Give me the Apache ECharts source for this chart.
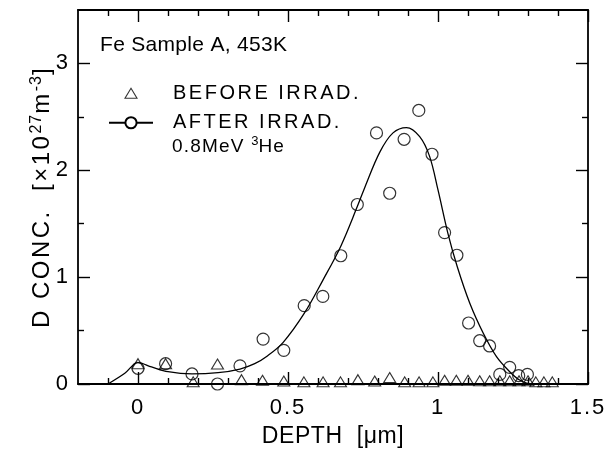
<!DOCTYPE html>
<html>
<head>
<meta charset="utf-8">
<script src="https://cdn.jsdelivr.net/npm/echarts@6/dist/echarts.min.js"></script>
<style>html,body{margin:0;padding:0;background:#fff;}#c{width:613px;height:455px;}</style>
</head>
<body>
<div id="c"></div>
<script>
// ---- data ----
const depthLabels = [0, 0.5, 1, 1.5];
const depthMinorTicks = [-0.1, 0.1, 0.2, 0.3, 0.4, 0.6, 0.7, 0.8, 0.9, 1.1, 1.2, 1.3, 1.4];
const concLabels = [0, 1, 2, 3];
const concMinorTicks = [0.5, 1.5, 2.5];

const beforeDepth = [0, 0.092, 0.184, 0.265, 0.345, 0.415, 0.486, 0.553, 0.617, 0.675, 0.733, 0.789, 0.839, 0.889, 0.937, 0.983, 1.022, 1.061, 1.1, 1.139, 1.172, 1.206, 1.239, 1.27, 1.3, 1.326, 1.353, 1.381];
const beforeConc  = [0.19, 0.19, 0.02, 0.187, 0.04, 0.035, 0.028, 0.02, 0.02, 0.02, 0.04, 0.028, 0.06, 0.02, 0.02, 0.02, 0.035, 0.035, 0.035, 0.03, 0.03, 0.03, 0.03, 0.03, 0.03, 0.02, 0.02, 0.02];

const afterDepth = [0, 0.092, 0.18, 0.265, 0.34, 0.417, 0.486, 0.554, 0.616, 0.676, 0.731, 0.795, 0.839, 0.887, 0.936, 0.98, 1.022, 1.063, 1.102, 1.139, 1.172, 1.206, 1.239, 1.269, 1.298];
const afterConc  = [0.147, 0.19, 0.094, 0.0, 0.17, 0.42, 0.315, 0.733, 0.82, 1.20, 1.68, 2.35, 1.785, 2.29, 2.56, 2.15, 1.417, 1.205, 0.571, 0.405, 0.356, 0.09, 0.156, 0.078, 0.09];

const fitDepth = [-0.1, -0.044, 0, 0.045, 0.1, 0.18, 0.267, 0.34, 0.389, 0.43, 0.484, 0.554, 0.616, 0.676, 0.731, 0.756, 0.806, 0.85, 0.895, 0.939, 0.972, 1.0, 1.033, 1.064, 1.106, 1.151, 1.195, 1.239, 1.272, 1.306];
const fitConc  = [0, 0.10, 0.20, 0.16, 0.115, 0.094, 0.106, 0.14, 0.19, 0.26, 0.39, 0.66, 0.97, 1.29, 1.66, 1.84, 2.17, 2.35, 2.40, 2.315, 2.13, 1.816, 1.41, 1.10, 0.756, 0.475, 0.256, 0.115, 0.037, 0];

const titleText = 'Fe Sample A, 453K';
const beforeName = 'BEFORE IRRAD.';
const afterName = 'AFTER IRRAD.';
const beamText = '0.8MeV {sup|3}He';

// ---- letter spacing of the original lettering (keyed by font size) ----
const SPACING = {'21': '0.3px', '20': '2.5px', '19': '1.2px', '22': '2px', '24': '2.5px', '23': '0.6px', '16': '1px'};
(function () {
  const P = CanvasRenderingContext2D.prototype;
  if (!('letterSpacing' in P)) return;
  const apply = ctx => {
    const m = /(\d+(?:\.\d+)?)px/.exec(ctx.font || '');
    ctx.letterSpacing = (m && SPACING[m[1]]) || '0px';
  };
  const ft = P.fillText, mt = P.measureText;
  P.fillText = function () { apply(this); return ft.apply(this, arguments); };
  P.measureText = function () { apply(this); return mt.apply(this, arguments); };
})();

// ---- chart ----
const FONT = '"Liberation Sans", Arial, Helvetica, sans-serif';
const zip = (xs, ys) => xs.map((x, i) => [x, ys[i]]);
const chart = echarts.init(document.getElementById('c'), null, {renderer: 'canvas'});

function xAxisDef(position, values, len, withLabel, withLine) {
  return {
    type: 'value', position: position, min: -0.2, max: 1.5,
    axisLine: {show: withLine, onZero: false, lineStyle: {color: '#000', width: 1.8}},
    axisTick: {show: true, inside: true, length: len, customValues: values, lineStyle: {color: '#000', width: 1.4}},
    axisLabel: withLabel ? {show: true, customValues: depthLabels, color: '#000', fontSize: 22, fontFamily: FONT, margin: 12,
      formatter: v => String(v)} : {show: false},
    splitLine: {show: false},
    name: withLabel ? 'DEPTH  [\u03bcm]' : '',
    nameLocation: 'middle', nameGap: 41, nameMoveOverlap: false,
    nameTextStyle: {color: '#000', fontSize: 23, fontFamily: FONT}
  };
}
function yAxisDef(position, values, len, withLabel, withLine) {
  return {
    type: 'value', position: position, min: 0, max: 3.5,
    axisLine: {show: withLine, onZero: false, lineStyle: {color: '#000', width: 1.8}},
    axisTick: {show: true, inside: true, length: len, customValues: values, lineStyle: {color: '#000', width: 1.4}},
    axisLabel: withLabel ? {show: true, customValues: concLabels, color: '#000', fontSize: 22, fontFamily: FONT, margin: 8,
      formatter: v => String(v)} : {show: false},
    splitLine: {show: false},
    name: withLabel ? 'D CONC.  [\u00d710{sup|27}m{sup|-3}]' : '',
    nameLocation: 'middle', nameGap: 22, nameMoveOverlap: false,
    nameTextStyle: withLabel ? {color: '#000', fontSize: 24, fontFamily: FONT, lineHeight: 28,
      rich: {sup: {fontSize: 16, fontFamily: FONT, color: '#000', verticalAlign: 'top', lineHeight: 14}}} : {}
  };
}

const option = {
  animation: false,
  backgroundColor: '#fff',
  grid: {left: 78, right: 25, top: 10, bottom: 71, containLabel: false},
  xAxis: [
    xAxisDef('bottom', depthLabels, 12, true, true),
    xAxisDef('bottom', depthMinorTicks, 6, false, false),
    xAxisDef('top', depthLabels, 12, false, true),
    xAxisDef('top', depthMinorTicks, 6, false, false)
  ],
  yAxis: [
    yAxisDef('left', concLabels, 12, true, true),
    yAxisDef('left', concMinorTicks, 6, false, false),
    yAxisDef('right', concLabels, 12, false, true),
    yAxisDef('right', concMinorTicks, 6, false, false)
  ],
  legend: {
    orient: 'vertical', left: 108, top: 82, padding: 0,
    itemWidth: 44, itemHeight: 14, itemGap: 7, selectedMode: false, symbolKeepAspect: true,
    textStyle: {color: '#000', fontSize: 20, fontFamily: FONT, lineHeight: 20, padding: [0, 0, 0, 15]},
    data: [
      {name: beforeName, icon: 'path://M-16,5L-16,5M6,0L12,10L0,10ZM28,5L28,5', itemStyle: {borderWidth: 1.1}},
      {name: afterName}
    ]
  },
  graphic: [
    {type: 'text', left: 100, top: 35, style: {text: titleText, fill: '#000', font: '21px ' + FONT}},
    {type: 'text', left: 172, top: 135, style: {
      text: beamText, fill: '#000', font: '19px ' + FONT, lineHeight: 24,
      rich: {sup: {fontSize: 13, fontFamily: FONT, fill: '#000', verticalAlign: 'top', lineHeight: 11}}}}
  ],
  series: [
    {
      name: afterName, type: 'line', xAxisIndex: 0, yAxisIndex: 0,
      data: zip(fitDepth, fitConc), smooth: 0.35, showSymbol: false, symbol: 'circle',
      lineStyle: {color: '#000', width: 1.3},
      itemStyle: {color: '#fff', borderColor: '#000', borderWidth: 1.1},
      z: 2
    },
    {
      name: beforeName, type: 'scatter', xAxisIndex: 0, yAxisIndex: 0,
      data: zip(beforeDepth, beforeConc), symbol: 'triangle', symbolSize: [12, 10],
      itemStyle: {color: 'rgba(0,0,0,0)', borderColor: '#000', borderWidth: 1.1},
      z: 3
    },
    {
      name: afterName, type: 'scatter', xAxisIndex: 0, yAxisIndex: 0,
      data: zip(afterDepth, afterConc), symbol: 'circle', symbolSize: 12,
      itemStyle: {color: 'rgba(0,0,0,0)', borderColor: '#000', borderWidth: 1.2},
      z: 4
    }
  ]
};
chart.setOption(option);
</script>
</body>
</html>
